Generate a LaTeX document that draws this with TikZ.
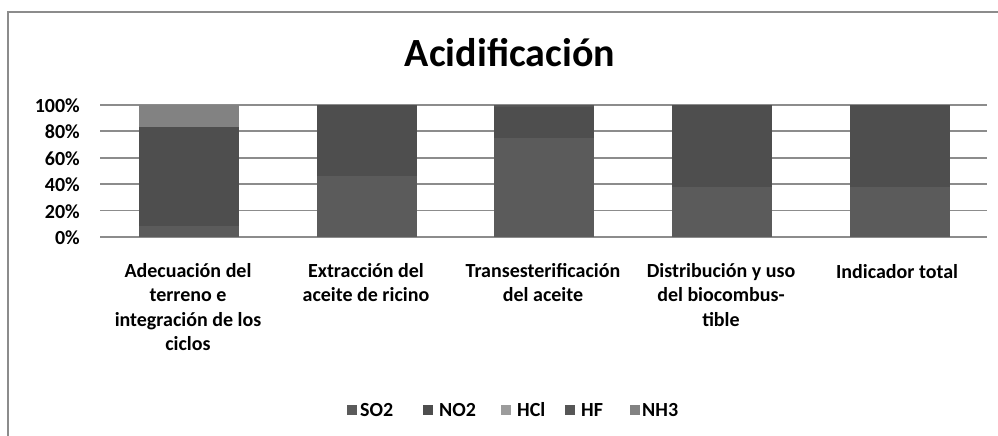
\documentclass[tikz,border=0pt]{standalone}
\usepackage{fontspec}
\setmainfont{Carlito}
\definecolor{so2c}{HTML}{5B5B5B}
\definecolor{no2c}{HTML}{4E4E4E}
\definecolor{hclc}{HTML}{9C9C9C}
\definecolor{hfc}{HTML}{565656}
\definecolor{nh3c}{HTML}{828282}
\definecolor{gridc}{HTML}{8C8C8C}
\newcommand{\pcy}[1]{199+1.323*#1}
\begin{document}
\begin{tikzpicture}[x=1pt, y=1pt,
  tick/.style={font=\bfseries\fontsize{20}{24}\selectfont, inner sep=0pt, anchor=east},
  cat/.style={font=\bfseries\fontsize{20}{24.5}\selectfont, inner sep=0pt, align=center, anchor=north},
  leg/.style={font=\bfseries\fontsize{20}{24}\selectfont, inner sep=0pt, anchor=base west},
  legbox/.style={minimum size=10pt, inner sep=0pt}]
  \useasboundingbox (0,0) rectangle (998,436);
  % frame
  \draw[gridc, line width=2pt] (8,0) -- (8,424) -- (998,424);
  \node[font=\bfseries\fontsize{40}{48}\selectfont, inner sep=0pt, anchor=base] (title) at (510,369) {Acidificación};
  % grid and axis
  \foreach \p in {0,20,...,100} {
    \draw[gridc, line width=1.8pt] (100,{\pcy{\p}}) -- (987,{\pcy{\p}});
    \node[tick] (t\p) at (80,{\pcy{\p}-1}) {\p\%};
  }
  % stacked bars
  \foreach \x/\a/\b/\c/\topc in {189/8/83/100/nh3c, 367/46/100/100/no2c, 544/75/98/100/hfc,
                                 721.5/38/100/100/no2c, 899.5/38/100/100/no2c} {
    \fill[so2c] (\x-50,{\pcy{0}}) rectangle (\x+50,{\pcy{\a}});
    \fill[no2c] (\x-50,{\pcy{\a}}) rectangle (\x+50,{\pcy{\b}});
    \fill[\topc] (\x-50,{\pcy{\b}}) rectangle (\x+50,{\pcy{\c}});
  }
  % categories
  \node[cat] (cat1) at (188,173) {Adecuación del\\terreno e\\integración de los\\ciclos};
  \node[cat] (cat2) at (366,173) {Extracción del\\aceite de ricino};
  \node[cat] (cat3) at (543,173) {Transesterificación\\del aceite};
  \node[cat] (cat4) at (721,173) {Distribución y uso\\del biocombus-\\tible};
  \node[cat] (cat5) at (897,172) {Indicador total};
  % legend
  \node[legbox, fill=so2c] (kSO2) at (352,26) {};
  \node[leg] (lSO2) at (360,19) {SO2};
  \node[legbox, fill=no2c] (kNO2) at (428,26) {};
  \node[leg] (lNO2) at (439,19) {NO2};
  \node[legbox, fill=hclc] (kHCl) at (506,26) {};
  \node[leg] (lHCl) at (517,19) {HCl};
  \node[legbox, fill=hfc] (kHF) at (570,26) {};
  \node[leg] (lHF) at (581,19) {HF};
  \node[legbox, fill=nh3c] (kNH3) at (635,26) {};
  \node[leg] (lNH3) at (642,19) {NH3};
\end{tikzpicture}
\end{document}
